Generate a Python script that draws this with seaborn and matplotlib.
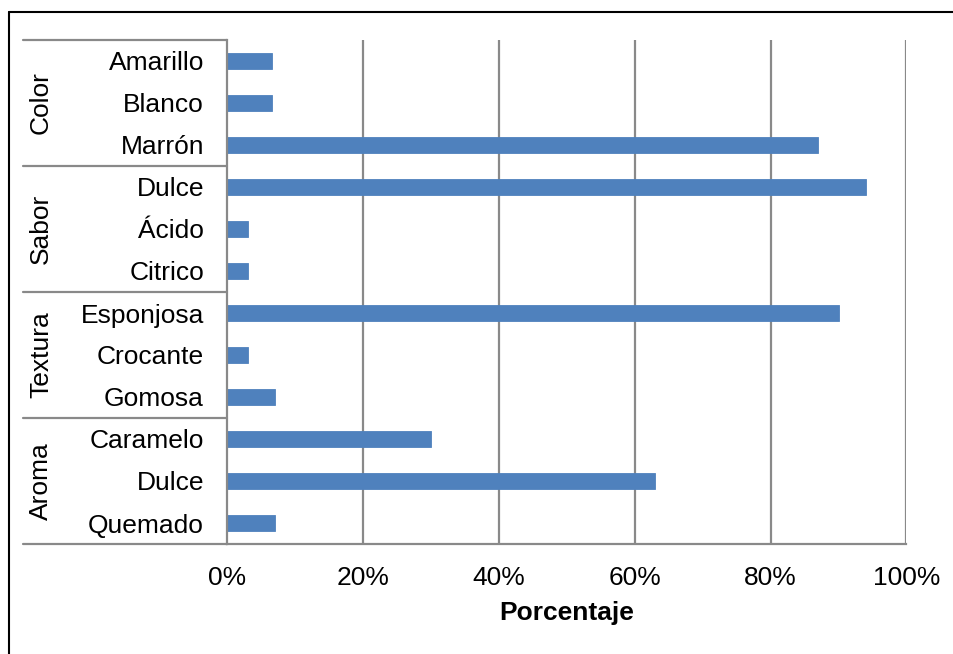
import matplotlib
matplotlib.use("Agg")
import matplotlib.pyplot as plt
from matplotlib.lines import Line2D
import seaborn as sns
import pandas as pd

# Survey results: share of answers per attribute, grouped by sensory category
grupos = ["Color", "Sabor", "Textura", "Aroma"]
atributos = [
    ["Amarillo", "Blanco", "Marrón"],
    ["Dulce", "Ácido", "Citrico"],
    ["Esponjosa", "Crocante", "Gomosa"],
    ["Caramelo", "Dulce", "Quemado"],
]
porcentajes = [
    [6.5, 6.5, 87],
    [94, 3, 3],
    [90, 3, 7],
    [30, 63, 7],
]
ticks_x = [0, 20, 40, 60, 80, 100]
titulo_x = "Porcentaje"

filas = []
for g, nombres, vals in zip(grupos, atributos, porcentajes):
    for n, v in zip(nombres, vals):
        filas.append({"grupo": g, "atributo": n, "clave": f"{g}|{n}", "valor": v})
df = pd.DataFrame(filas)

sns.set_theme(style="white")
plt.rcParams["font.family"] = ["Liberation Sans", "DejaVu Sans"]

W, H = 954, 654
fig = plt.figure(figsize=(W / 100, H / 100), dpi=100)
x0, x1, ytop, ybot = 227.5, 906.5, 40, 544
ax = fig.add_axes([x0 / W, 1 - ybot / H, (x1 - x0) / W, (ybot - ytop) / H])

azul = "#4F81BD"
gris = "#898989"
fs = 19

sns.barplot(data=df, y="clave", x="valor", order=list(df["clave"]),
            orient="h", color=azul, width=0.38, saturation=1,
            edgecolor=azul, linewidth=0.6, ax=ax)

ax.set_xlim(0, 100)
ax.set_xticks(ticks_x)
ax.set_xticklabels([f"{t}%" for t in ticks_x], fontsize=fs, color="black")
ax.set_yticklabels(list(df["atributo"]), fontsize=fs, color="black")
ax.set_ylabel("")
ax.set_xlabel(titulo_x, fontsize=fs, fontweight="bold", color="black", labelpad=8)
ax.tick_params(axis="both", length=0)
ax.tick_params(axis="y", pad=17)
ax.tick_params(axis="x", pad=16)

for t in ticks_x[1:]:
    ax.axvline(t, color=gris, lw=1.6, zorder=0)

for s in ["top", "right"]:
    ax.spines[s].set_visible(False)
for s in ["left", "bottom"]:
    ax.spines[s].set_color(gris)
    ax.spines[s].set_linewidth(1.6)

# Multi-level category axis: separators and rotated group names
xl = (23 - x0) / (x1 - x0)
trans = ax.get_yaxis_transform()
limites = [-0.5]
pos = -0.5
for nombres in atributos:
    pos += len(nombres)
    limites.append(pos)
for b in limites:
    ax.add_line(Line2D([xl, 0], [b, b], transform=trans, color=gris,
                       lw=1.6, clip_on=False))
centro_x = (41 - x0) / (x1 - x0)
for g, a, b in zip(grupos, limites[:-1], limites[1:]):
    ax.text(centro_x, (a + b) / 2, g, transform=trans, rotation=90,
            ha="center", va="center", fontsize=fs, color="black")
ax.set_ylim(limites[-1], limites[0])

# Outer chart frame (top and left edges)
fig.add_artist(Line2D([9.5 / W, 1], [1 - 11.5 / H, 1 - 11.5 / H],
                      transform=fig.transFigure, color="black", lw=1.5))
fig.add_artist(Line2D([9.5 / W, 9.5 / W], [0, 1 - 11.5 / H],
                      transform=fig.transFigure, color="black", lw=1.5))

fig.savefig("out.png", dpi=100, facecolor="white")
